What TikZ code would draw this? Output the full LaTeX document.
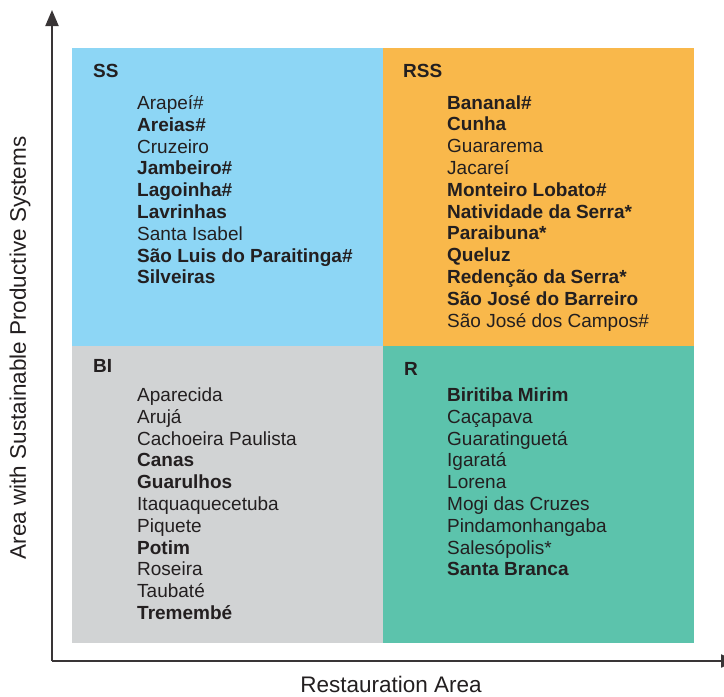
\documentclass[tikz,border=0pt]{standalone}
\usepackage{fontspec}
\setmainfont{Liberation Sans}
\usetikzlibrary{arrows.meta}

\definecolor{ssblue}{HTML}{8DD6F5}
\definecolor{rssorange}{HTML}{F9B84B}
\definecolor{bigray}{HTML}{D1D3D4}
\definecolor{rgreen}{HTML}{5CC3AC}
\definecolor{ink}{HTML}{231F20}

\tikzset{
  axis/.style={line width=2pt, draw=ink!90, -{Triangle[length=16pt,width=13pt]}},
  quadlabel/.style={anchor=base west, inner sep=0pt, text=ink, font=\fontsize{19}{22}\selectfont\bfseries},
  town/.style={anchor=base west, inner sep=0pt, text=ink, font=\fontsize{19}{22}\selectfont},
  axislabel/.style={inner sep=0pt, text=ink, font=\fontsize{22.5}{26}\selectfont},
}

\begin{document}
\begin{tikzpicture}[x=1pt,y=-1pt]
    \clip (0,0) rectangle (724,697);

    % quadrants
    \fill[ssblue] (72,48) rectangle (383,346);
    \fill[rssorange] (383,48) rectangle (694,346);
    \fill[bigray] (72,346) rectangle (383,643);
    \fill[rgreen] (383,346) rectangle (694,643);

    % axes
    \coordinate (O) at (52,661);
    \coordinate (ytip) at (52,10);
    \coordinate (xtip) at (737,661);
    \draw[axis] (O) -- (ytip);
    \draw[axis] (O) -- (xtip);
    \node[axislabel, rotate=90] (ylabel) at (20,348) {Area with Sustainable Productive Systems};
    \node[axislabel] (xlabel) at (391,684) {Restauration Area};

    % quadrant labels
    \node[quadlabel] (ss) at (93,77) {SS};
    \node[quadlabel] (rss) at (403,77) {RSS};
    \node[quadlabel] (bi) at (93,372) {BI};
    \node[quadlabel] (r) at (404,375) {R};

    % municipalities
    \foreach \town [count=\i] in {Arapeí\#, \textbf{Areias\#}, Cruzeiro, \textbf{Jambeiro\#},
        \textbf{Lagoinha\#}, \textbf{Lavrinhas}, Santa Isabel, \textbf{São Luis do Paraitinga\#},
        \textbf{Silveiras}}
        \node[town] (ss\i) at (137,{109.5+21.8*(\i-1)}) {\town};

    \foreach \town [count=\i] in {\textbf{Bananal\#}, \textbf{Cunha}, Guararema, Jacareí,
        \textbf{Monteiro Lobato\#}, \textbf{Natividade da Serra*}, \textbf{Paraibuna*},
        \textbf{Queluz}, \textbf{Redenção da Serra*}, \textbf{São José do Barreiro},
        São José dos Campos\#}
        \node[town] (rss\i) at (447,{109+21.8*(\i-1)}) {\town};

    \foreach \town [count=\i] in {Aparecida, Arujá, Cachoeira Paulista, \textbf{Canas},
        \textbf{Guarulhos}, Itaquaquecetuba, Piquete, \textbf{Potim}, Roseira, Taubaté,
        \textbf{Tremembé}}
        \node[town] (bi\i) at (137,{401.5+21.8*(\i-1)}) {\town};

    \foreach \town [count=\i] in {\textbf{Biritiba Mirim}, Caçapava, Guaratinguetá, Igaratá,
        Lorena, Mogi das Cruzes, Pindamonhangaba, Salesópolis*, \textbf{Santa Branca}}
        \node[town] (r\i) at (447,{401.5+21.8*(\i-1)}) {\town};
\end{tikzpicture}
\end{document}
